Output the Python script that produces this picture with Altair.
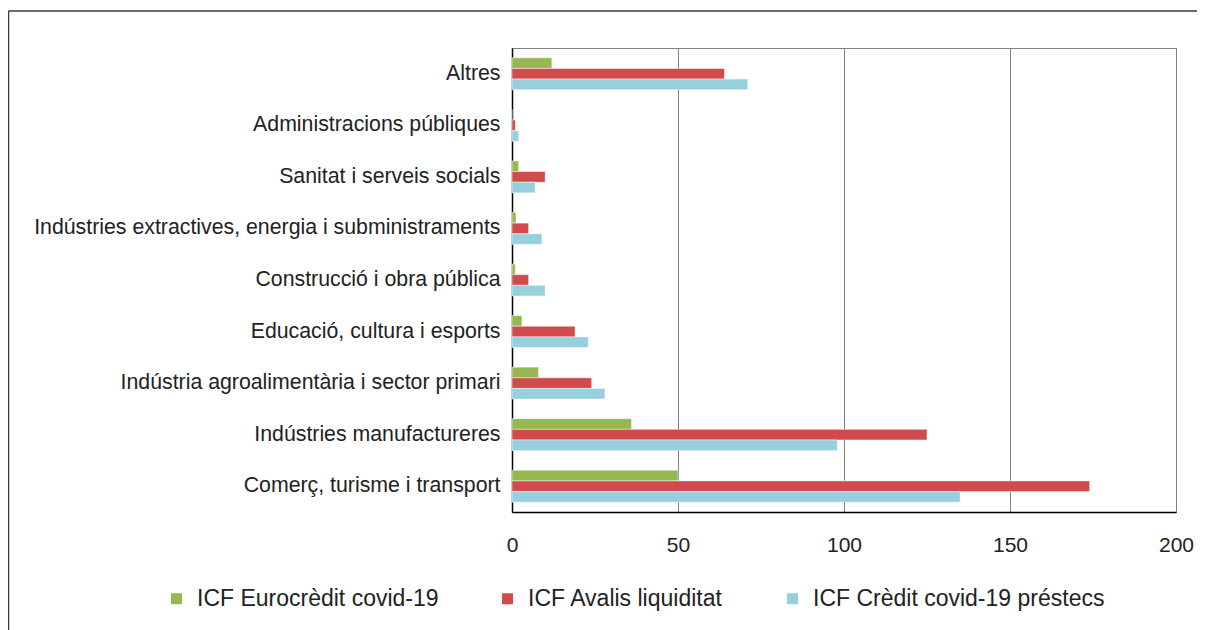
import altair as alt
import pandas as pd

categories = [
    "Altres",
    "Administracions públiques",
    "Sanitat i serveis socials",
    "Indústries extractives, energia i subministraments",
    "Construcció i obra pública",
    "Educació, cultura i esports",
    "Indústria agroalimentària i sector primari",
    "Indústries manufactureres",
    "Comerç, turisme i transport",
]
series_names = [
    "ICF Eurocrèdit covid-19",
    "ICF Avalis liquiditat",
    "ICF Crèdit covid-19 préstecs",
]
eurocredit = [12, 0, 2, 1.2, 1, 3, 8, 36, 50]
avalis = [64, 1, 10, 5, 5, 19, 24, 125, 174]
credit = [71, 2, 7, 9, 10, 23, 28, 98, 135]
colors = ["#95B94E", "#D14A4C", "#98CFDF"]
x_ticks = [0, 50, 100, 150, 200]

rows = []
for i, c in enumerate(categories):
    for s, vals in zip(series_names, [eurocredit, avalis, credit]):
        rows.append({"cat": c, "series": s, "value": vals[i]})
df = pd.DataFrame(rows)

FONT = "Liberation Sans"
TXT = "#222222"

bars = alt.Chart(df).mark_bar(stroke="white", strokeWidth=0.8, strokeOpacity=0.6).encode(
    y=alt.Y("cat:N", sort=categories, title=None,
            scale=alt.Scale(paddingInner=0.38, paddingOuter=0.19),
            axis=alt.Axis(labelFontSize=21.3, labelFont=FONT, labelColor=TXT,
                          labelPadding=12, ticks=False, domainColor="black",
                          domainWidth=1.5, labelLimit=600)),
    yOffset=alt.YOffset("series:N", sort=series_names, scale=alt.Scale(paddingInner=0, paddingOuter=0)),
    x=alt.X("value:Q", title=None,
            scale=alt.Scale(domain=[0, 200], nice=False),
            axis=alt.Axis(values=x_ticks, labelFontSize=21, labelFont=FONT, labelColor=TXT,
                          labelPadding=22, ticks=False, grid=True, gridColor="#808080",
                          gridWidth=1, domainColor="black", domainWidth=1.5, labelFlush=False)),
    color=alt.Color("series:N", sort=series_names,
                    scale=alt.Scale(domain=series_names, range=colors),
                    legend=alt.Legend(title=None, orient="none", direction="horizontal",
                                      legendX=-347, legendY=539, symbolType="square",
                                      symbolSize=121, symbolStrokeWidth=0,
                                      labelFontSize=23, labelFont=FONT, labelColor=TXT,
                                      labelOffset=9, columnPadding=57, labelLimit=400,
                                      labelExpr="datum.index == 0 ? datum.label + '   ' : datum.label")),
)

frame_df = pd.DataFrame({"a": [0]})
frame_top = alt.Chart(frame_df).mark_rule(stroke="#3a3a3a", strokeWidth=1.5).encode(
    x=alt.value(-503.5), x2=alt.value(720), y=alt.value(-37)
)
frame_left = alt.Chart(frame_df).mark_rule(stroke="#3a3a3a", strokeWidth=1.5).encode(
    x=alt.value(-503.5), y=alt.value(-37), y2=alt.value(700)
)

chart = alt.layer(frame_top, frame_left, bars).properties(
    width=664, height=464,
    autosize=alt.AutoSizeParams(type="none"),
    padding={"left": 504, "top": 40, "right": 21, "bottom": 118},
).configure_view(stroke="#808080", strokeWidth=1)

chart.save("out.html", embed_options={"renderer": "svg", "actions": False})
